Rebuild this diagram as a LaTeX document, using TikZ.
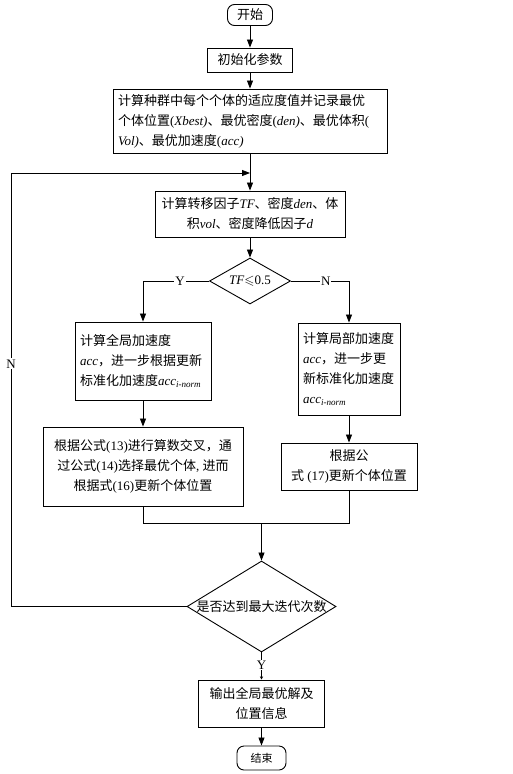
\documentclass[tikz,border=0pt]{standalone}
\usepackage{amssymb}
\usepackage{fontspec}
\setmainfont{Noto Sans CJK SC}
\newfontfamily\latin{Liberation Serif}
\usetikzlibrary{shapes.geometric,arrows.meta}
\newcommand{\en}[1]{{\latin #1}}
\newcommand{\vname}[1]{{\latin\itshape #1}}
\tikzset{
  proc/.style={draw, line width=0.9pt, inner sep=0pt},
  term/.style={draw, line width=0.9pt, rounded corners=7pt, inner sep=0pt},
  decision/.style={draw, diamond, line width=0.9pt, inner sep=0pt},
  lbl/.style={fill=white, inner sep=1pt, font=\fontsize{13}{15}\latin},
}
\begin{document}
\begin{tikzpicture}[x=1pt, y=-1pt, line width=0.8pt,
    >={Triangle[length=8pt,width=6pt]},
    font=\fontsize{13}{20}\selectfont]
    \useasboundingbox (0,0) rectangle (513,774);
    % Start and initialisation
    \node[term, minimum width=45, minimum height=21] (start) at (250,15) {开始};
    \node[proc, minimum width=85, minimum height=24] (init) at (250,60) {初始化参数};
    \node[proc, minimum width=274, minimum height=64, text width=264, align=left] (calc) at (250,121)
        {计算种群中每个个体的适应度值并记录最优\\个体位置\en{(}\vname{Xbest)}、最优密度\en{(}\vname{den)}、最优体积\en{(}\\\vname{Vol)}、最优加速度\en{(}\vname{acc)}};
    \node[proc, minimum width=190, minimum height=46, align=center] (trans) at (250,214)
        {计算转移因子\vname{TF}、密度\vname{den}、体\\积\vname{vol}、密度降低因子\vname{d}};
    % First decision
    \node[decision, minimum width=81, minimum height=46,
        label={center:\vname{TF}$\leqslant$\en{0.5}}] (tf) at (250,281) {};
    % Global branch
    \node[proc, minimum width=136, minimum height=78, text width=126, align=left] (glob) at (143,361)
        {计算全局加速度\\\vname{acc}，进一步根据更新\\标准化加速度\vname{acc}\textsubscript{\vname{i-norm}}};
    \node[proc, minimum width=200, minimum height=79, align=center] (cross) at (143,466.5)
        {根据公式\en{(13)}进行算数交叉，通\\过公式\en{(14)}选择最优个体\en{, }进而\\根据式\en{(16)}更新个体位置};
    % Local branch
    \node[proc, minimum width=102, minimum height=92, text width=92, align=left] (loc) at (349,369)
        {计算局部加速度\\\vname{acc}，进一步更\\新标准化加速度\\\vname{acc}\textsubscript{\vname{i-norm}}};
    \node[proc, minimum width=136, minimum height=47, align=center] (upd) at (349,466.5)
        {根据公\\式\en{ (17)}更新个体位置};
    % Stop test and output
    \node[decision, minimum width=149, minimum height=91,
        label={center:是否达到最大迭代次数}] (maxit) at (261.5,606.5) {};
    \node[proc, minimum width=126, minimum height=47, align=center] (out) at (261.5,703.5)
        {输出全局最优解及\\位置信息};
    \node[term, minimum width=49, minimum height=24, font=\fontsize{11}{13}\selectfont] (stop) at (261.5,758) {结束};
    \coordinate (merge) at (261.5,523);
    \coordinate (loopl) at (11,173);
    \coordinate (back) at (250,173);
    % Connectors
    \draw[->] (start) -- (init);
    \draw[->] (init) -- (calc);
    \draw[->] (calc) -- (trans);
    \draw[->] (trans) -- (tf);
    \draw[->] (tf.west) -| node[lbl, pos=0.22] {Y} (glob.north);
    \draw[->] (tf.east) -| node[lbl, pos=0.3] {N} (loc.north);
    \draw[->] (glob) -- (cross);
    \draw[->] (loc) -- (upd);
    \draw (cross.south) |- (merge);
    \draw (upd.south) |- (merge);
    \draw[->] (merge) -- (maxit.north);
    \draw[->] (maxit.west) -| node[lbl, pos=0.78] {N} (loopl) -- (back);
    \draw[-{Triangle[length=3pt,width=3pt]}] (maxit.south) -- node[lbl, pos=0.46] {Y} (out);
    \draw[->] (out) -- (stop);
\end{tikzpicture}
\end{document}
